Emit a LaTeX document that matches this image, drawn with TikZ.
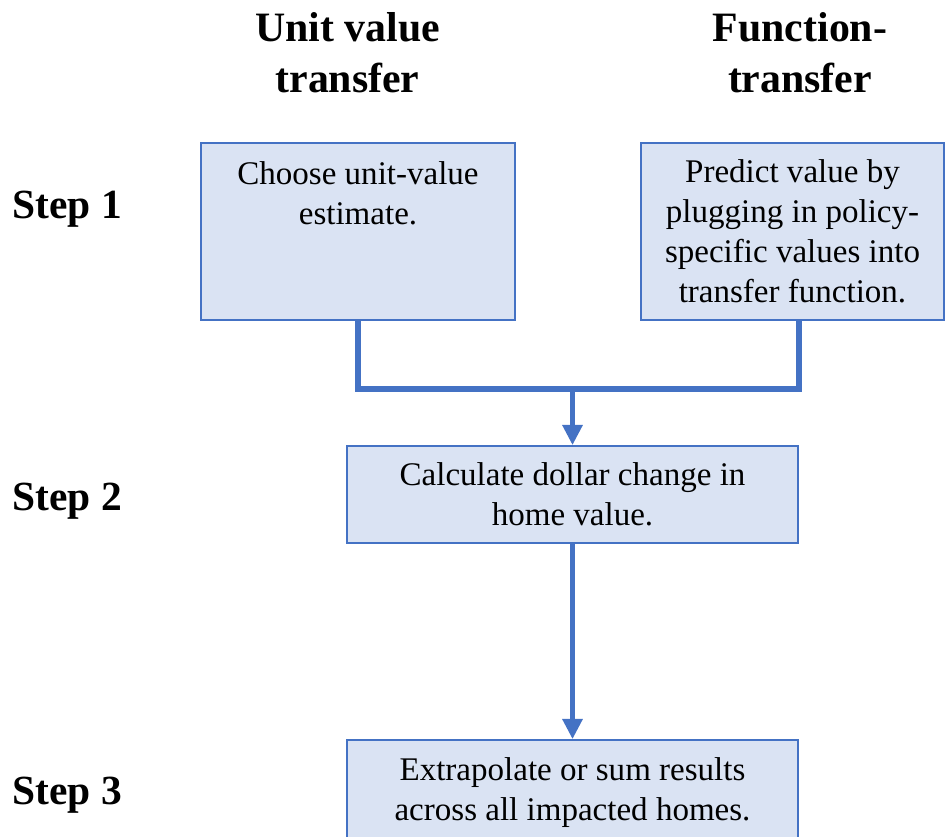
\documentclass[tikz,border=0pt]{standalone}
\usepackage{fontspec}
\setmainfont{Liberation Serif}
\usepackage{tikz}
\usetikzlibrary{arrows.meta,positioning,calc}
\definecolor{boxfill}{HTML}{DAE3F3}
\definecolor{boxline}{HTML}{4472C4}
\tikzstyle{head}=[align=center, inner sep=0pt, font=\bfseries\fontsize{23.8}{28.9}\selectfont]
\tikzstyle{steplabel}=[anchor=base west, inner sep=0pt, font=\bfseries\fontsize{23.6}{28.9}\selectfont]
\tikzstyle{stepbox}=[draw=boxline, fill=boxfill, line width=1pt, align=center, inner sep=0pt, font=\fontsize{18.8}{22.7}\selectfont]
\tikzstyle{link}=[draw=boxline, line width=3.4pt]
\tikzstyle{linkarrow}=[link, -{Triangle[length=11.5pt, width=11pt]}]

\begin{document}
\begin{tikzpicture}[x=0.02cm, y=-0.02cm]
\useasboundingbox (0,0) rectangle (945,836);

% headings
\node[head] (hunit) at (347.5,53) {Unit value\\transfer};
\node[head] (hfunc) at (800,53) {Function-\\transfer};

% steps
\node[steplabel] (s1) at (12,218) {Step 1};
\node[steplabel] (s2) at (12,510) {Step 2};
\node[steplabel] (s3) at (12,804) {Step 3};

% step 1
\node[stepbox, minimum width=6.28cm, minimum height=3.54cm] (unit) at (358,231.5) {};
\node[align=center, inner sep=0pt, font=\fontsize{18.8}{22.7}\selectfont] (unittext) at (358,193) {Choose unit-value\\estimate.};
\node[stepbox, minimum width=6.06cm, minimum height=3.54cm] (func) at (792.5,231.5) {Predict value by\\plugging in policy-\\specific values into\\transfer function.};

% step 2
\node[stepbox, minimum width=9.02cm, minimum height=1.94cm] (calc) at (572.5,494.5) {Calculate dollar change in\\home value.};

% step 3
\node[stepbox, minimum width=9.02cm, minimum height=2.1cm] (extra) at (572.5,792.5) {Extrapolate or sum results\\across all impacted homes.};

% connectors
\coordinate (merge) at (572.5,389);
\draw[link] (unit.south) |- (merge -| calc.east) -- (func.south -| calc.east);
\draw[linkarrow] (merge) -- (calc.north);
\draw[linkarrow] (calc.south) -- (extra.north);

\end{tikzpicture}
\end{document}
